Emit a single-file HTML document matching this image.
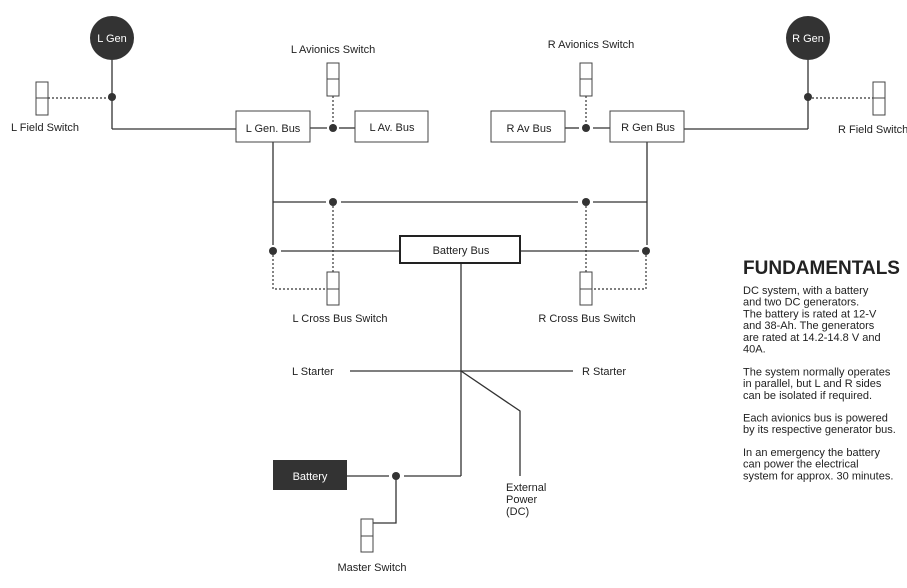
<!DOCTYPE html>
<html><head><style>
html,body{margin:0;padding:0;background:#fff;}
svg{display:block;font-family:"Liberation Sans",sans-serif;}
</style></head><body>
<svg width="907" height="588" viewBox="0 0 907 588" xmlns="http://www.w3.org/2000/svg">
<g stroke="#333" stroke-width="1.3" fill="none">
<line x1="112" y1="60" x2="112" y2="129"/><line x1="112" y1="129" x2="236" y2="129"/>
<line x1="310" y1="128" x2="327" y2="128"/><line x1="339" y1="128" x2="355" y2="128"/>
<line x1="273" y1="142" x2="273" y2="245"/>
<line x1="273" y1="202" x2="326" y2="202"/><line x1="341" y1="202" x2="578" y2="202"/><line x1="593" y1="202" x2="647" y2="202"/>
<line x1="281" y1="251" x2="400" y2="251"/><line x1="520" y1="251" x2="639" y2="251"/>
<line x1="565" y1="128" x2="579" y2="128"/><line x1="593" y1="128" x2="610" y2="128"/>
<line x1="684" y1="129" x2="808" y2="129"/><line x1="808" y1="60" x2="808" y2="129"/>
<line x1="647" y1="142" x2="647" y2="245"/>
<line x1="461" y1="263" x2="461" y2="476"/>
<line x1="350" y1="371" x2="573" y2="371"/>
<polyline points="461,371 520,411 520,476"/>
<line x1="347" y1="476" x2="389" y2="476"/><line x1="404" y1="476" x2="461" y2="476"/>
<polyline points="396,476 396,523 373,523"/>
</g>
<g stroke="#333" stroke-width="1.2" fill="none" stroke-dasharray="2,2">
<line x1="48" y1="98" x2="112" y2="98"/>
<line x1="333" y1="96" x2="333" y2="128"/>
<line x1="333" y1="202" x2="333" y2="272"/>
<polyline points="273,251 273,289 327,289"/>
<line x1="586" y1="96" x2="586" y2="128"/>
<line x1="586" y1="202" x2="586" y2="272"/>
<polyline points="646,251 646,289 592,289"/>
<line x1="808" y1="98" x2="873" y2="98"/>
</g>
<g fill="#fff" stroke="#444" stroke-width="1">
<rect x="36" y="82" width="12" height="33"/><line x1="36" y1="98" x2="48" y2="98"/>
<rect x="327" y="63" width="12" height="33"/><line x1="327" y1="79" x2="339" y2="79"/>
<rect x="580" y="63" width="12" height="33"/><line x1="580" y1="79" x2="592" y2="79"/>
<rect x="873" y="82" width="12" height="33"/><line x1="873" y1="98" x2="885" y2="98"/>
<rect x="327" y="272" width="12" height="33"/><line x1="327" y1="289" x2="339" y2="289"/>
<rect x="580" y="272" width="12" height="33"/><line x1="580" y1="289" x2="592" y2="289"/>
<rect x="361" y="519" width="12" height="33"/><line x1="361" y1="536" x2="373" y2="536"/>
<rect x="236" y="111" width="74" height="31"/>
<rect x="355" y="111" width="73" height="31"/>
<rect x="491" y="111" width="74" height="31"/>
<rect x="610" y="111" width="74" height="31"/>
<rect x="400" y="236" width="120" height="27" stroke="#222" stroke-width="2"/>
</g>
<g fill="#333">
<circle cx="112" cy="38" r="22"/><circle cx="808" cy="38" r="22"/>
<rect x="273" y="460" width="74" height="30"/>
<circle cx="112" cy="97" r="4"/><circle cx="333" cy="128" r="4"/><circle cx="333" cy="202" r="4"/>
<circle cx="273" cy="251" r="4"/><circle cx="586" cy="128" r="4"/><circle cx="586" cy="202" r="4"/>
<circle cx="646" cy="251" r="4"/><circle cx="808" cy="97" r="4"/><circle cx="396" cy="476" r="4"/>
</g>
<g font-size="11" fill="#222" text-anchor="middle">
<text x="112" y="42" fill="#fff">L Gen</text>
<text x="808" y="42" fill="#fff">R Gen</text>
<text x="310" y="480" fill="#fff">Battery</text>
<text x="333" y="53">L Avionics Switch</text>
<text x="591" y="48">R Avionics Switch</text>
<text x="45" y="131">L Field Switch</text>
<text x="273" y="132">L Gen. Bus</text>
<text x="392" y="131">L Av. Bus</text>
<text x="529" y="132">R Av Bus</text>
<text x="648" y="131">R Gen Bus</text>
<text x="461" y="254">Battery Bus</text>
<text x="340" y="322">L Cross Bus Switch</text>
<text x="587" y="322">R Cross Bus Switch</text>
<text x="372" y="571">Master Switch</text>
</g>
<g font-size="11" fill="#222">
<text x="838" y="133">R Field Switch</text>
<text x="292" y="375">L Starter</text>
<text x="582" y="375">R Starter</text>
<text x="506" y="491">External</text>
<text x="506" y="503">Power</text>
<text x="506" y="515">(DC)</text>
</g>
<text x="743" y="274" font-size="19" font-weight="bold" fill="#222" textLength="157" lengthAdjust="spacingAndGlyphs">FUNDAMENTALS</text>
<g font-size="11" fill="#222">
<text x="743" y="294">DC system, with a battery</text>
<text x="743" y="305.7">and two DC generators.</text>
<text x="743" y="317.4">The battery is rated at 12-V</text>
<text x="743" y="329.1">and 38-Ah. The generators</text>
<text x="743" y="340.8">are rated at 14.2-14.8 V and</text>
<text x="743" y="352.5">40A.</text>
<text x="743" y="375.5">The system normally operates</text>
<text x="743" y="387.2">in parallel, but L and R sides</text>
<text x="743" y="398.9">can be isolated if required.</text>
<text x="743" y="421.5">Each avionics bus is powered</text>
<text x="743" y="433.2">by its respective generator bus.</text>
<text x="743" y="456">In an emergency the battery</text>
<text x="743" y="467.7">can power the electrical</text>
<text x="743" y="479.4">system for approx. 30 minutes.</text>
</g>
</svg>
</body></html>
